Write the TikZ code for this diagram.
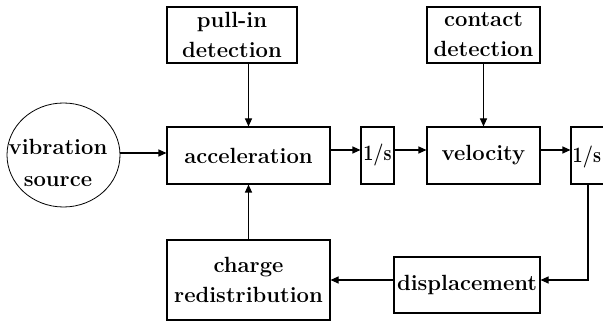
\documentclass[tikz,border=0pt]{standalone}
\usetikzlibrary{arrows.meta,shapes.geometric}
\newcommand{\narrow}[1]{\scalebox{0.82}[1]{#1}}
\begin{document}
\begin{tikzpicture}[x=1pt,y=-1pt,
  blk/.style={draw,line width=1.1pt,inner sep=0pt,align=center,
    font=\bfseries\fontsize{22}{30}\selectfont},
  arr/.style={line width=1.1pt,-{Triangle[length=8pt,width=7pt]}}]
\useasboundingbox (0,0) rectangle (603,323);
\clip (0,0) rectangle (603,323);
\node[blk,minimum width=130pt,minimum height=56pt] (pull) at (232,35) {pull-in\\detection};
\node[blk,minimum width=113pt,minimum height=56pt] (cont) at (483.5,35) {contact\\detection};
\node[blk,minimum width=163pt,minimum height=57pt] (acc) at (248.5,155.5) {acceleration};
\node[blk,minimum width=33pt,minimum height=57pt] (s1) at (377.5,155.5) {\narrow{1/s}};
\node[blk,minimum width=34pt,minimum height=57pt] (s2) at (588,155.5) {};
\node[inner sep=0pt,font=\bfseries\fontsize{22}{30}\selectfont,anchor=west] (s2t) at (572.5,157) {\narrow{1/s}};
\node[blk,minimum width=113pt,minimum height=57pt] (vel) at (483.5,155.5) {velocity};
\node[blk,minimum width=163pt,minimum height=80pt] (chg) at (248.5,280) {charge\\redistribution};
\node[blk,minimum width=146pt,minimum height=56pt] (disp) at (467,285) {displacement};
\node[draw,line width=0.8pt,ellipse,minimum width=113pt,minimum height=104pt,inner sep=0pt] (vib) at (63.5,155) {};
\node[align=center,inner sep=0pt,font=\bfseries\fontsize{22}{32}\selectfont] (vibt) at (58,163) {vibration\\source};
\coordinate (hv) at (0,153);
\coordinate (hy) at (0,150);
\draw[arr] (vib.east |- hv) -- (acc.west |- hv);
\draw[arr] (pull.south -| acc.north) -- (acc.north);
\draw[arr] (cont.south) -- (vel.north);
\draw[arr] (acc.east |- hy) -- (s1.west |- hy);
\draw[arr] (s1.east |- hy) -- (vel.west |- hy);
\draw[arr] (vel.east |- hy) -- (s2.west |- hy);
\draw[arr] (s2.south) |- (disp.east |- chg.east);
\draw[arr] (disp.west |- chg.east) -- (chg.east);
\draw[arr] (chg.north) -- (acc.south);
\end{tikzpicture}
\end{document}
